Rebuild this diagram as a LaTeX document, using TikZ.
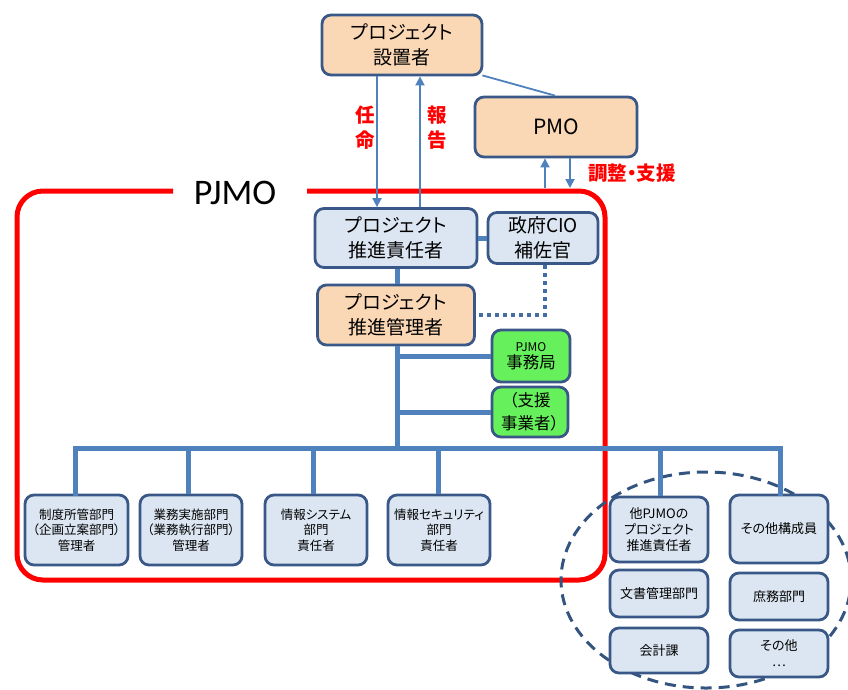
\documentclass[tikz,border=0pt]{standalone}
\usepackage{fontspec}
\setmainfont[RawFeature=+palt]{Noto Sans CJK JP}
\newfontfamily\titlefont{Carlito}
\usetikzlibrary{arrows.meta}
\definecolor{bordc}{RGB}{58,88,135}
\definecolor{linec}{RGB}{79,129,189}
\definecolor{peachc}{RGB}{250,215,181}
\definecolor{lbluec}{RGB}{220,230,242}
\definecolor{greenc}{RGB}{102,240,92}
\definecolor{redc}{RGB}{255,0,0}
\definecolor{dashc}{RGB}{52,84,128}
\tikzset{
  box/.style={draw=bordc, line width=2.8pt, rounded corners=9pt, align=center, inner sep=0pt, text=black},
  peach/.style={box, fill=peachc},
  lblue/.style={box, fill=lbluec},
  gbox/.style={box, fill=greenc},
  bigtxt/.style={font=\fontsize{19}{25}\selectfont},
  smltxt/.style={font=\fontsize{12.5}{15.5}\selectfont},
  rtxt/.style={font=\fontsize{13}{16}\selectfont},
  redlbl/.style={text=redc, font=\fontsize{19.5}{25}\selectfont\bfseries, align=center, inner sep=0pt},
  thinarrow/.style={draw=linec, line width=1.8pt, -{Triangle[width=9pt,length=9pt]}},
  trunk/.style={draw=linec, line width=5pt},
  dotline/.style={draw=linec!85!black, line width=4pt, dash pattern=on 4pt off 4pt},
}
\begin{document}
\begin{tikzpicture}[x=1pt,y=-1pt]
\useasboundingbox (0,0) rectangle (848,689);
% red PJMO frame
\draw[redc, line width=5pt, rounded corners=26pt] (173,191) -- (17,191) -- (17,580) -- (605,580) -- (605,191) -- (307,191);
\node[inner sep=0pt, font=\titlefont\fontsize{36}{36}\selectfont] (pjmo) at (235,193) {PJMO};
% dashed ellipse
\draw[dashc, line width=3pt, dash pattern=on 11pt off 7pt] (706,580) ellipse [x radius=145pt, y radius=108pt];
% top nodes
\node[peach, bigtxt, minimum width=160pt, minimum height=60pt] (setchi) at (402,45) {プロジェクト\\設置者};
\node[peach, minimum width=162pt, minimum height=60pt, font=\fontsize{21}{24}\selectfont] (pmo) at (556,127) {PMO};
\node[lblue, bigtxt, minimum width=162pt, minimum height=59pt] (sekinin) at (396,238) {プロジェクト\\推進責任者};
\node[lblue, bigtxt, minimum width=110pt, minimum height=51pt] (cio) at (543,238) {政府CIO\\補佐官};
\node[peach, bigtxt, minimum width=157pt, minimum height=60pt] (kanri) at (396,315) {プロジェクト\\推進管理者};
\node[gbox, minimum width=78pt, minimum height=52pt] (jimu) at (531,356) {{\fontsize{12}{14}\selectfont PJMO}\\[2pt]{\fontsize{16.5}{18}\selectfont 事務局}};
\node[gbox, font=\fontsize{16.5}{23}\selectfont, minimum width=76pt, minimum height=50pt] (shien) at (530,412) {（支援\\事業者）};
% bottom nodes
\node[lblue, smltxt, minimum width=103pt, minimum height=70pt] (b1) at (76.5,530) {制度所管部門\\（企画立案部門）\\管理者};
\node[lblue, smltxt, minimum width=102pt, minimum height=70pt] (b2) at (191,530) {業務実施部門\\（業務執行部門）\\管理者};
\node[lblue, smltxt, minimum width=102pt, minimum height=70pt] (b3) at (316,530) {情報システム\\部門\\責任者};
\node[lblue, smltxt, minimum width=102pt, minimum height=70pt] (b4) at (439,530) {情報セキュリティ\\部門\\責任者};
% right group
\node[lblue, rtxt, minimum width=98pt, minimum height=65pt] (r1) at (659,529.5) {他PJMOの\\プロジェクト\\推進責任者};
\node[lblue, rtxt, minimum width=98pt, minimum height=47pt] (r2) at (659,593.5) {文書管理部門};
\node[lblue, rtxt, minimum width=98pt, minimum height=45pt] (r3) at (659,650.5) {会計課};
\node[lblue, rtxt, minimum width=98pt, minimum height=68pt] (s1) at (779,529) {その他構成員};
\node[lblue, rtxt, minimum width=98pt, minimum height=47pt] (s2) at (779,596.5) {庶務部門};
\node[lblue, rtxt, minimum width=98pt, minimum height=47pt] (s3) at (779,653.5) {その他\\…};
% red labels
\node[redlbl] (ninmei) at (365,128) {任\\命};
\node[redlbl] (houkoku) at (437,128) {報\\告};
\node[redlbl, anchor=west] (chousei) at (588,173) {調整・支援};
% connectors top
\draw[thinarrow] (377,0 |- setchi.south) -- (377,0 |- sekinin.north);
\draw[thinarrow] (420,0 |- sekinin.north) -- (420,0 |- setchi.south);
\draw[draw=linec, line width=1.8pt] ([xshift=-1pt,yshift=1pt]setchi.south east) -- (555,0 |- pmo.north);
\coordinate (pu) at (545,188);
\coordinate (pd) at (570,188);
\draw[thinarrow] (pu) -- (pu |- pmo.south);
\draw[thinarrow] (pd |- pmo.south) -- (pd);
% trunk
\draw[trunk] (sekinin.east) -- (cio.west);
\draw[trunk] (397,0 |- sekinin.south) -- (397,0 |- kanri.north);
\coordinate (bus) at (397,448);
\draw[trunk] (397,0 |- kanri.south) -- (bus);
\draw[trunk] (jimu.west) -- (bus |- jimu.west);
\draw[trunk] (shien.west) -- (bus |- shien.west);
\draw[dotline] (545,0 |- cio.south) |- (kanri.east);
\draw[trunk, line cap=rect] (75,0 |- b1.north) |- (bus) -| (780,0 |- s1.north);
\draw[trunk] (188,0 |- b2.north) -- (188,0 |- bus);
\draw[trunk] (313,0 |- b3.north) -- (313,0 |- bus);
\draw[trunk] (438,0 |- b4.north) -- (438,0 |- bus);
\draw[trunk] (660,0 |- r1.north) -- (660,0 |- bus);
\end{tikzpicture}
\end{document}
